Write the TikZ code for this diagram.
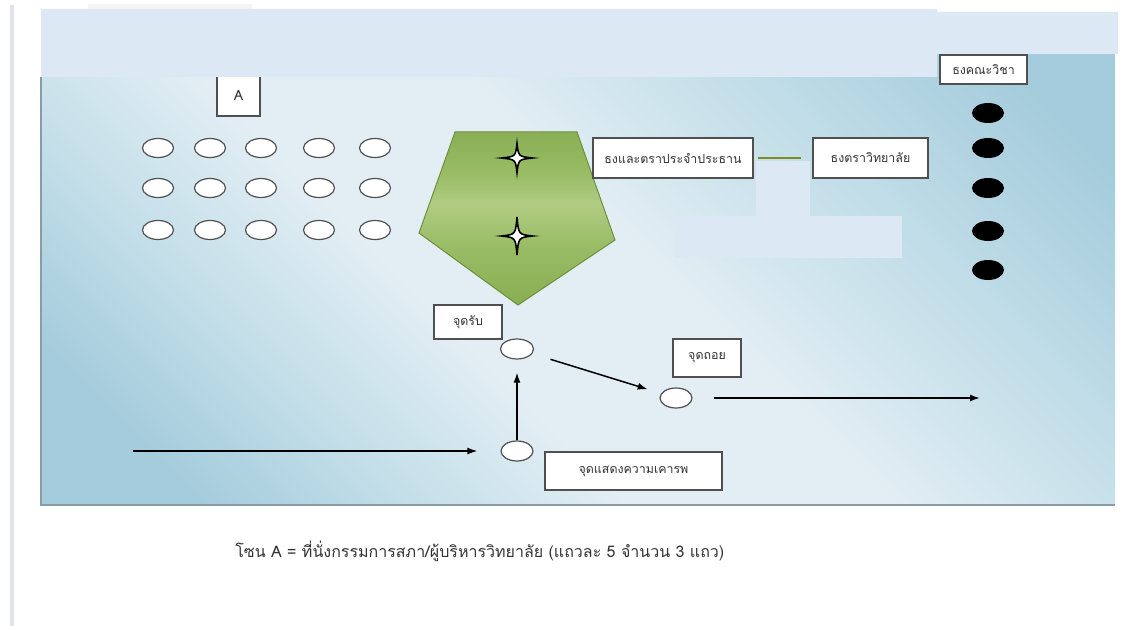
\documentclass[tikz,border=0pt]{standalone}
\usepackage{fontspec}
\newfontfamily\thaifont[Script=Thai]{Loma}
\usetikzlibrary{arrows.meta,shapes.geometric}

\definecolor{pagegray}{HTML}{E2E2EA}
\definecolor{shadowgray}{HTML}{8A9BA5}
\definecolor{bandblue}{HTML}{DCE8F3}
\definecolor{skydark}{HTML}{A5CCDC}
\definecolor{skymid}{HTML}{C4DFE9}
\definecolor{skylight}{HTML}{E3EEF4}
\definecolor{boxgray}{HTML}{505050}
\definecolor{podiumtop}{HTML}{8AAF56}
\definecolor{podiummid}{HTML}{B0CC82}
\definecolor{podiumlow}{HTML}{99BC65}
\definecolor{podiumbottom}{HTML}{88AE52}
\definecolor{podiumedge}{HTML}{6E8F3A}
\definecolor{flagline}{HTML}{7F8C26}

\pgfdeclarehorizontalshading{stageshade}{100bp}{color(0bp)=(skydark); color(22bp)=(skydark); color(32bp)=(skymid); color(42bp)=(skylight); color(54bp)=(skylight); color(66bp)=(skymid); color(80bp)=(skydark); color(100bp)=(skydark)}
\pgfdeclareverticalshading{podiumshade}{100bp}{color(0bp)=(podiumbottom); color(25bp)=(podiumbottom); color(42bp)=(podiumlow); color(54bp)=(podiummid); color(63bp)=(podiumlow); color(75bp)=(podiumtop); color(100bp)=(podiumtop)}

\tikzset{%
        seat/.style={
                ellipse,
                draw=boxgray,
                fill=white,
                line width=0.6pt,
                minimum width=15.5pt,
                minimum height=9.5pt
            },
        flagdot/.style={
                ellipse,
                fill=black,
                minimum width=16pt,
                minimum height=10pt
            },
        labelbox/.style={
                draw=boxgray,
                fill=white,
                line width=0.6pt,
                inner sep=0pt,
                text=black!80,
                font=\thaifont\fontsize{6.2}{7}\selectfont
            },
        walk/.style={
                ->,
                line width=0.75pt
            }
    }

\begin{document}
\begin{tikzpicture}[x=0.5pt,y=-0.5pt, >={Latex[length=5pt,width=3.5pt]}]
    \useasboundingbox (0,0) rectangle (1135,626);
    \fill[white] (0,0) rectangle (1135,626);
    \fill[pagegray] (10,5) rectangle (14,626);
    \fill[black!4] (88,4) rectangle (252,9);

    % stage background:
        \shade[shading=stageshade, shading angle=45] (41,54) rectangle (1115,505);
        \draw[shadowgray, line width=1.2pt] (41,77) -- (41,505) -- (1115,505);

    % zone A seats:
        \foreach \r/\ry in {1/148,2/188,3/230}
            \foreach \c/\cx in {1/158,2/210,3/261,4/319,5/375}
                \node [seat] (seat-\r-\c) at (\cx,\ry) {};
        \node [labelbox, minimum width=21.5pt, minimum height=20pt, font=\thaifont\fontsize{7}{8}\selectfont] (zoneA) at (238.5,96) {A};

    % podium:
        \shade[shading=podiumshade]
            (455,132) -- (577,132) -- (615,240) -- (518,305) -- (419,233) -- cycle;
        \draw[podiumedge, line width=0.5pt]
            (455,132) -- (577,132) -- (615,240) -- (518,305) -- (419,233) -- cycle;
        \foreach \sy/\sh in {158/14.5,236/19}
            \draw[fill=white, line width=0.8pt, shift={(517,\sy)}]
                (0,-\sh) .. controls (1.5,-1.5) .. (15.5,0) .. controls (1.5,1.5) .. (0,\sh)
                .. controls (-1.5,1.5) .. (-15.5,0) .. controls (-1.5,-1.5) .. cycle;

    % flags:
        \node [labelbox, minimum width=80pt, minimum height=20pt] (presflag) at (673,158) {ธงและตราประจำประธาน};
        \node [labelbox, minimum width=57.5pt, minimum height=20pt] (collflag) at (870.5,158) {ธงตราวิทยาลัย};
        \draw[flagline, line width=1pt, shorten <=2pt, shorten >=5.5pt] (presflag) -- (collflag);
        \node [labelbox, minimum width=43.5pt, minimum height=14.5pt] (facflag) at (983.5,69.5) {ธงคณะวิชา};
        \foreach \i/\dy in {1/113,2/148,3/188,4/231,5/270}
            \node [flagdot] (dot-\i) at (988,\dy) {};

    % route:
        \node [seat, minimum width=16.5pt, minimum height=10pt] (recv) at (517,349) {};
        \node [seat, minimum width=16pt, minimum height=10pt] (retreat) at (676,398) {};
        \node [seat, minimum width=16pt, minimum height=10pt] (salute) at (517,451) {};
        \node [labelbox, minimum width=34pt, minimum height=17pt] (recvlabel) at (468,322) {จุดรับ};
        \node [labelbox, minimum width=34pt, minimum height=19pt] (retreatlabel) at (707,358) {จุดถอย};
        \node [labelbox, minimum width=88.5pt, minimum height=19pt] (salutelabel) at (633.5,471) {จุดแสดงความเคารพ};
        \coordinate (entry) at (133,451);
        \coordinate (exit) at (980,398);

        \draw[walk, shorten >=11.5pt] (entry) -- (salute);
        \draw[walk, shorten >=6.5pt] (salute) -- (recv);
        \draw[walk, shorten <=9.5pt, shorten >=7pt] (recv) -- (retreat);
        \draw[walk, shorten <=10.5pt] (retreat) -- (exit);

    % covering patches:
        \fill[bandblue] (756,161) rectangle (810,216);
        \fill[bandblue] (674,216) rectangle (902,258);
        \fill[bandblue] (41,9) -- (937,9) -- (937,12) -- (1118,12) -- (1118,54) -- (937,54) -- (937,77) -- (41,77) -- cycle;

    % legend:
        \node [anchor=west, inner sep=0pt, text=black!80, font=\thaifont\fontsize{8}{9}\selectfont] (legend) at (235,551)
            {โซน A = ที่นั่งกรรมการสภา/ผู้บริหารวิทยาลัย (แถวละ 5 จำนวน 3 แถว)};
\end{tikzpicture}
\end{document}
